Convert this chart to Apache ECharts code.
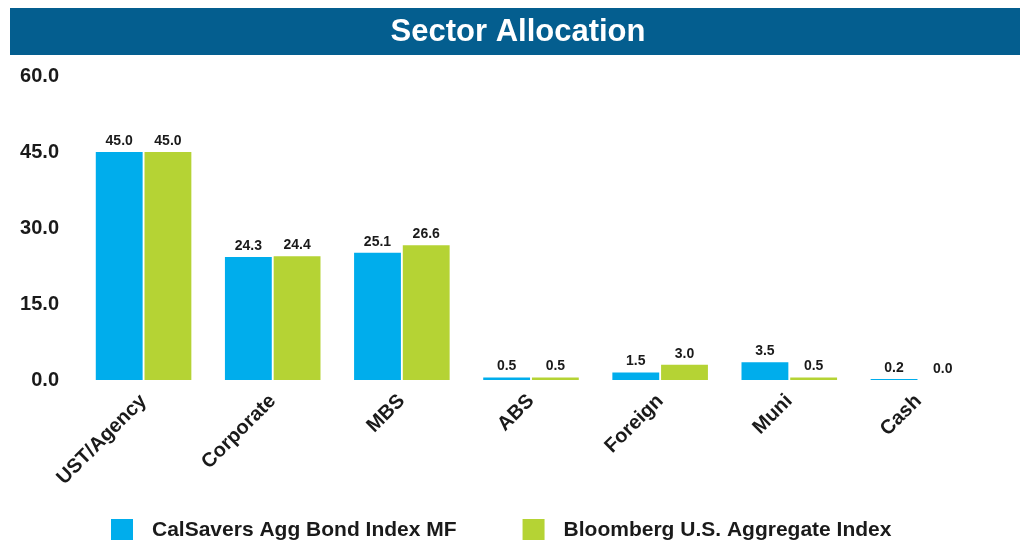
<!DOCTYPE html>
<html>
<head>
<meta charset="utf-8">
<script src="https://cdn.jsdelivr.net/npm/echarts@6/dist/echarts.min.js"></script>
<style>
  html, body { margin: 0; padding: 0; background: #fff; }
  #chart { width: 1029px; height: 540px; }
</style>
</head>
<body>
<div id="chart"></div>
<script>
// sectors and weights (%)
var sectors = ["UST/Agency", "Corporate", "MBS", "ABS", "Foreign", "Muni", "Cash"];
var fundValues = [45.0, 24.3, 25.1, 0.5, 1.5, 3.5, 0.2];
var indexValues = [45.0, 24.4, 26.6, 0.5, 3.0, 0.5, 0.0];
var seriesNames = ["CalSavers Agg Bond Index MF", "Bloomberg U.S. Aggregate Index"];

var font = "Liberation Sans, Arial, sans-serif";
var chart = echarts.init(document.getElementById("chart"));

var labelStyle = {
  show: true,
  position: "top",
  distance: 4,
  color: "#1a1a1a",
  fontFamily: font,
  fontWeight: "bold",
  fontSize: 14,
  formatter: function (p) {
    return p.value.toFixed(1);
  },
};

var option = {
  animation: false,
  graphic: [
    {
      type: "rect",
      shape: { x: 10, y: 8, width: 1010, height: 47 },
      style: { fill: "#045e8f" },
    },
    {
      type: "text",
      x: 518,
      y: 32,
      style: {
        text: "Sector Allocation",
        fill: "#fff",
        font: "bold 31px " + font,
        align: "center",
        verticalAlign: "middle",
      },
    },
  ],
  legend: {
    top: 514,
    left: 106,
    itemWidth: 22,
    itemHeight: 23,
    itemGap: 66,
    icon: "rect",
    textStyle: {
      color: "#1a1a1a",
      fontFamily: font,
      fontWeight: "bold",
      fontSize: 21,
      padding: [0, 0, 0, 14],
    },
    data: seriesNames,
  },
  grid: {
    left: 79,
    right: 46,
    top: 76,
    bottom: 160,
    containLabel: false,
  },
  xAxis: {
    type: "category",
    data: sectors,
    axisLine: { show: false },
    axisTick: { show: false },
    axisLabel: {
      rotate: 45,
      interval: 0,
      margin: 18,
      color: "#1a1a1a",
      fontFamily: font,
      fontWeight: "bold",
      fontSize: 20,
    },
  },
  yAxis: {
    type: "value",
    min: 0,
    max: 60,
    interval: 15,
    splitLine: { show: false },
    axisLine: { show: false },
    axisTick: { show: false },
    axisLabel: {
      margin: 20,
      color: "#1a1a1a",
      fontFamily: font,
      fontWeight: "bold",
      fontSize: 20,
      formatter: function (v) {
        return v.toFixed(1);
      },
    },
  },
  series: [
    {
      name: seriesNames[0],
      type: "bar",
      data: fundValues,
      barGap: "4%",
      barCategoryGap: "26%",
      itemStyle: { color: "#00adec" },
      label: labelStyle,
    },
    {
      name: seriesNames[1],
      type: "bar",
      data: indexValues,
      itemStyle: { color: "#b5d334" },
      label: labelStyle,
    },
  ],
};

chart.setOption(option);
</script>
</body>
</html>
